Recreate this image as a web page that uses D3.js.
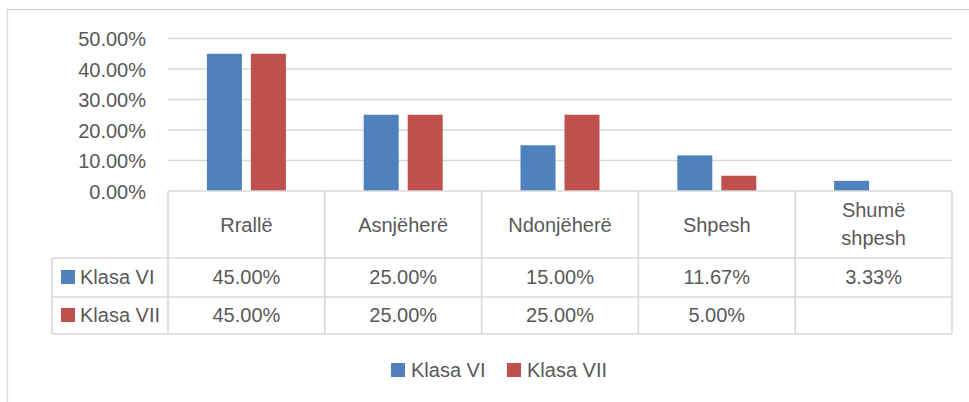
<!DOCTYPE html>
<html>
<head>
<meta charset="utf-8">
<script src="https://cdn.jsdelivr.net/npm/d3@7/dist/d3.min.js"></script>
<style>
  html, body { margin: 0; padding: 0; background: #fff; }
  svg text { font-family: "Liberation Sans", Arial, sans-serif; fill: #595959; }
</style>
</head>
<body>
<svg id="chart" width="969" height="402"></svg>
<script>
const categories = ["Rrallë", "Asnjëherë", "Ndonjëherë", "Shpesh", "Shumë shpesh"];
const categoryLines = [["Rrallë"], ["Asnjëherë"], ["Ndonjëherë"], ["Shpesh"], ["Shumë", "shpesh"]];
const seriesNames = ["Klasa VI", "Klasa VII"];
const klasaVI = [0.45, 0.25, 0.15, 0.1167, 0.0333];
const klasaVII = [0.45, 0.25, 0.25, 0.05, null];
const seriesValues = [klasaVI, klasaVII];
const yTicks = [0, 0.1, 0.2, 0.3, 0.4, 0.5];
const colors = ["#4F81BD", "#C0504D"];

const svg = d3.select("#chart");
const grid = "#d9d9d9";
const fmt = d3.format(".2%");
const FS = 20;

// outer chart border
svg.append("rect").attr("x", 7.5).attr("y", 9.5).attr("width", 1000).attr("height", 500)
  .attr("fill", "none").attr("stroke", grid).attr("stroke-width", 1.3);

const plotLeft = 168, plotRight = 952, plotTop = 38.5, plotBottom = 191;
const x = d3.scaleBand().domain(categories).range([plotLeft, plotRight]).paddingInner(0).paddingOuter(0);
const xs = d3.scaleBand().domain(seriesNames).range([0, x.bandwidth()]).paddingInner(0.2045).paddingOuter(0.884);
const y = d3.scaleLinear().domain([0, 0.5]).range([plotBottom, plotTop]);

// gridlines
svg.append("g").selectAll("line").data(yTicks.filter(d => d > 0)).join("line")
  .attr("x1", plotLeft).attr("x2", plotRight)
  .attr("y1", d => y(d)).attr("y2", d => y(d))
  .attr("stroke", grid).attr("stroke-width", 1.6);

// y axis labels
const yAxis = d3.axisLeft(y).tickValues(yTicks).tickFormat(fmt).tickSize(0).tickPadding(0);
const ya = svg.append("g").attr("transform", `translate(146,0)`).call(yAxis);
ya.select(".domain").remove();
ya.attr("font-family", null);
ya.selectAll("text").attr("font-size", FS).attr("dy", "0.36em").attr("fill", "#595959");

// bars
seriesNames.forEach((s, si) => {
  svg.append("g").selectAll("rect").data(categories.map((c, i) => ({c, v: seriesValues[si][i]})).filter(d => d.v != null))
    .join("rect")
    .attr("x", d => x(d.c) + xs(s))
    .attr("width", xs.bandwidth())
    .attr("y", d => y(d.v))
    .attr("height", d => y(0) - y(d.v))
    .attr("fill", colors[si]);
});

// data table
const rowTops = [191, 258, 297, 334];
const tableLeft = 52;
const tg = svg.append("g");
tg.append("line").attr("x1", plotLeft).attr("x2", plotRight).attr("y1", rowTops[0]).attr("y2", rowTops[0]).attr("stroke", grid).attr("stroke-width", 1.6);
[1, 2, 3].forEach(i => {
  tg.append("line").attr("x1", tableLeft).attr("x2", plotRight).attr("y1", rowTops[i]).attr("y2", rowTops[i]).attr("stroke", grid).attr("stroke-width", 1.6);
});
const vx = categories.map(c => x(c)).concat([plotRight]);
vx.forEach(v => {
  tg.append("line").attr("x1", v).attr("x2", v).attr("y1", rowTops[0]).attr("y2", rowTops[3]).attr("stroke", grid).attr("stroke-width", 1.6);
});
tg.append("line").attr("x1", tableLeft).attr("x2", tableLeft).attr("y1", rowTops[1]).attr("y2", rowTops[3]).attr("stroke", grid).attr("stroke-width", 1.6);

// header texts
categories.forEach((c, i) => {
  const lines = categoryLines[i];
  const cx = x(c) + x.bandwidth() / 2;
  const baseY = lines.length === 1 ? 232 : 216.5;
  lines.forEach((ln, li) => {
    tg.append("text").attr("x", cx).attr("y", baseY + li * 28.5).attr("text-anchor", "middle")
      .attr("font-size", FS).text(ln);
  });
});
// row texts
const rowBase = [284, 322];
seriesNames.forEach((s, si) => {
  tg.append("rect").attr("x", 61).attr("y", rowBase[si] - 14).attr("width", 14).attr("height", 14).attr("fill", colors[si]);
  tg.append("text").attr("x", 80).attr("y", rowBase[si]).attr("font-size", FS).text(s);
  categories.forEach((c, i) => {
    const v = seriesValues[si][i];
    if (v == null) return;
    tg.append("text").attr("x", x(c) + x.bandwidth() / 2).attr("y", rowBase[si]).attr("text-anchor", "middle")
      .attr("font-size", FS).text(fmt(v));
  });
});

// bottom legend
const legX = [391, 507];
seriesNames.forEach((s, si) => {
  svg.append("rect").attr("x", legX[si]).attr("y", 363).attr("width", 14).attr("height", 14).attr("fill", colors[si]);
  svg.append("text").attr("x", legX[si] + 20).attr("y", 377).attr("font-size", FS).text(s);
});
</script>
</body>
</html>
